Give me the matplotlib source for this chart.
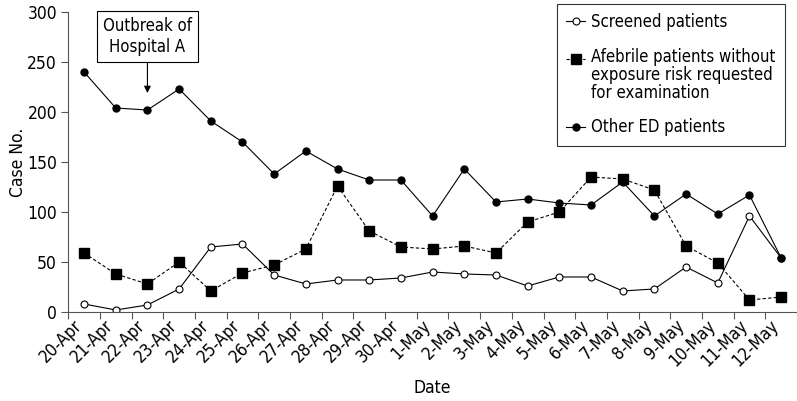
import matplotlib
matplotlib.use("Agg")
import matplotlib.pyplot as plt
import matplotlib.transforms as mtransforms
import numpy as np

plt.rcParams['font.family'] = ['DejaVu Sans']
plt.rcParams['font.stretch'] = 'condensed'

dates = ['20-Apr', '21-Apr', '22-Apr', '23-Apr', '24-Apr', '25-Apr', '26-Apr',
         '27-Apr', '28-Apr', '29-Apr', '30-Apr', '1-May', '2-May', '3-May',
         '4-May', '5-May', '6-May', '7-May', '8-May', '9-May', '10-May',
         '11-May', '12-May']

screened = [8, 2, 7, 23, 65, 68, 37, 28, 32, 32, 34, 40, 38, 37,
            26, 35, 35, 21, 23, 45, 29, 96, 54]
afebrile = [59, 38, 28, 50, 21, 39, 47, 63, 126, 81, 65, 63, 66, 59,
            90, 100, 135, 133, 122, 66, 49, 12, 15]
other_ed = [240, 204, 202, 223, 191, 170, 138, 161, 143, 132, 132, 96, 143, 110,
            113, 109, 107, 130, 96, 118, 98, 117, 54]

x = np.arange(len(dates))

fig = plt.figure(figsize=(7.97, 4.01), dpi=100)
ax = fig.add_axes([0.0856, 0.222, 0.9144, 0.748])

ax.plot(x, screened, '-', color='black', lw=0.8, marker='o', ms=5,
        mfc='white', mec='black', mew=0.8, label='Screened patients')
ax.plot(x, afebrile, '--', color='black', lw=0.8, dashes=(3, 2), marker='s', ms=6.5,
        mfc='black', mec='black',
        label='Afebrile patients without\nexposure risk requested\nfor examination')
ax.plot(x, other_ed, '-', color='black', lw=0.8, marker='o', ms=5,
        mfc='black', mec='black', label='Other ED patients')

ax.set_xlim(-0.5, len(dates) - 0.5)
ax.set_ylim(0, 300)
ax.set_yticks(range(0, 301, 50))
ax.tick_params(axis='y', labelsize=12.5, length=5, width=0.8, color='#555555', pad=3)

ax.set_xticks(x)
ax.set_xticklabels(dates, rotation=45, ha='right', va='center',
                   rotation_mode='anchor', fontsize=12.5)
ax.tick_params(axis='x', which='major', length=0, pad=8)
ax.set_xticks(np.arange(-0.5, len(dates) - 0.5, 1), minor=True)
ax.tick_params(axis='x', which='minor', length=5, width=0.8, color='#555555')
shift = mtransforms.ScaledTranslation(-5 / 100, 0, fig.dpi_scale_trans)
for lab in ax.get_xticklabels():
    lab.set_transform(lab.get_transform() + shift)

for s in ['top', 'right']:
    ax.spines[s].set_visible(False)
for s in ['left', 'bottom']:
    ax.spines[s].set_color('#555555')
    ax.spines[s].set_linewidth(0.8)

ax.set_ylabel('Case No.', fontsize=12.5)
ax.yaxis.set_label_coords(-0.056, 0.5)
ax.set_xlabel('Date', fontsize=12.5, labelpad=6)

ax.annotate('Outbreak of\nHospital A', xy=(2, 219), xytext=(2, 275.5),
            ha='center', va='center', fontsize=12, linespacing=1.15,
            bbox=dict(boxstyle='square,pad=0.38', fc='white', ec='black', lw=0.8),
            arrowprops=dict(arrowstyle='-|>', color='black', lw=0.8,
                            mutation_scale=10, shrinkA=0, shrinkB=0))

leg = ax.legend(loc='upper right', bbox_to_anchor=(0.9835, 1.027), fontsize=12,
                frameon=True, fancybox=False, handlelength=1.1,
                handletextpad=0.4, labelspacing=1.0, borderpad=0.55,
                borderaxespad=0)
leg.get_frame().set_edgecolor('black')
leg.get_frame().set_linewidth(0.8)
for t in leg.get_texts():
    t.set_linespacing(1.0)
# put the marker of the three-line entry next to its first line
h = leg.legend_handles[1]
h.set_ydata(np.asarray(h.get_ydata()) + 12.3)

fig.savefig('out.png', dpi=100)
